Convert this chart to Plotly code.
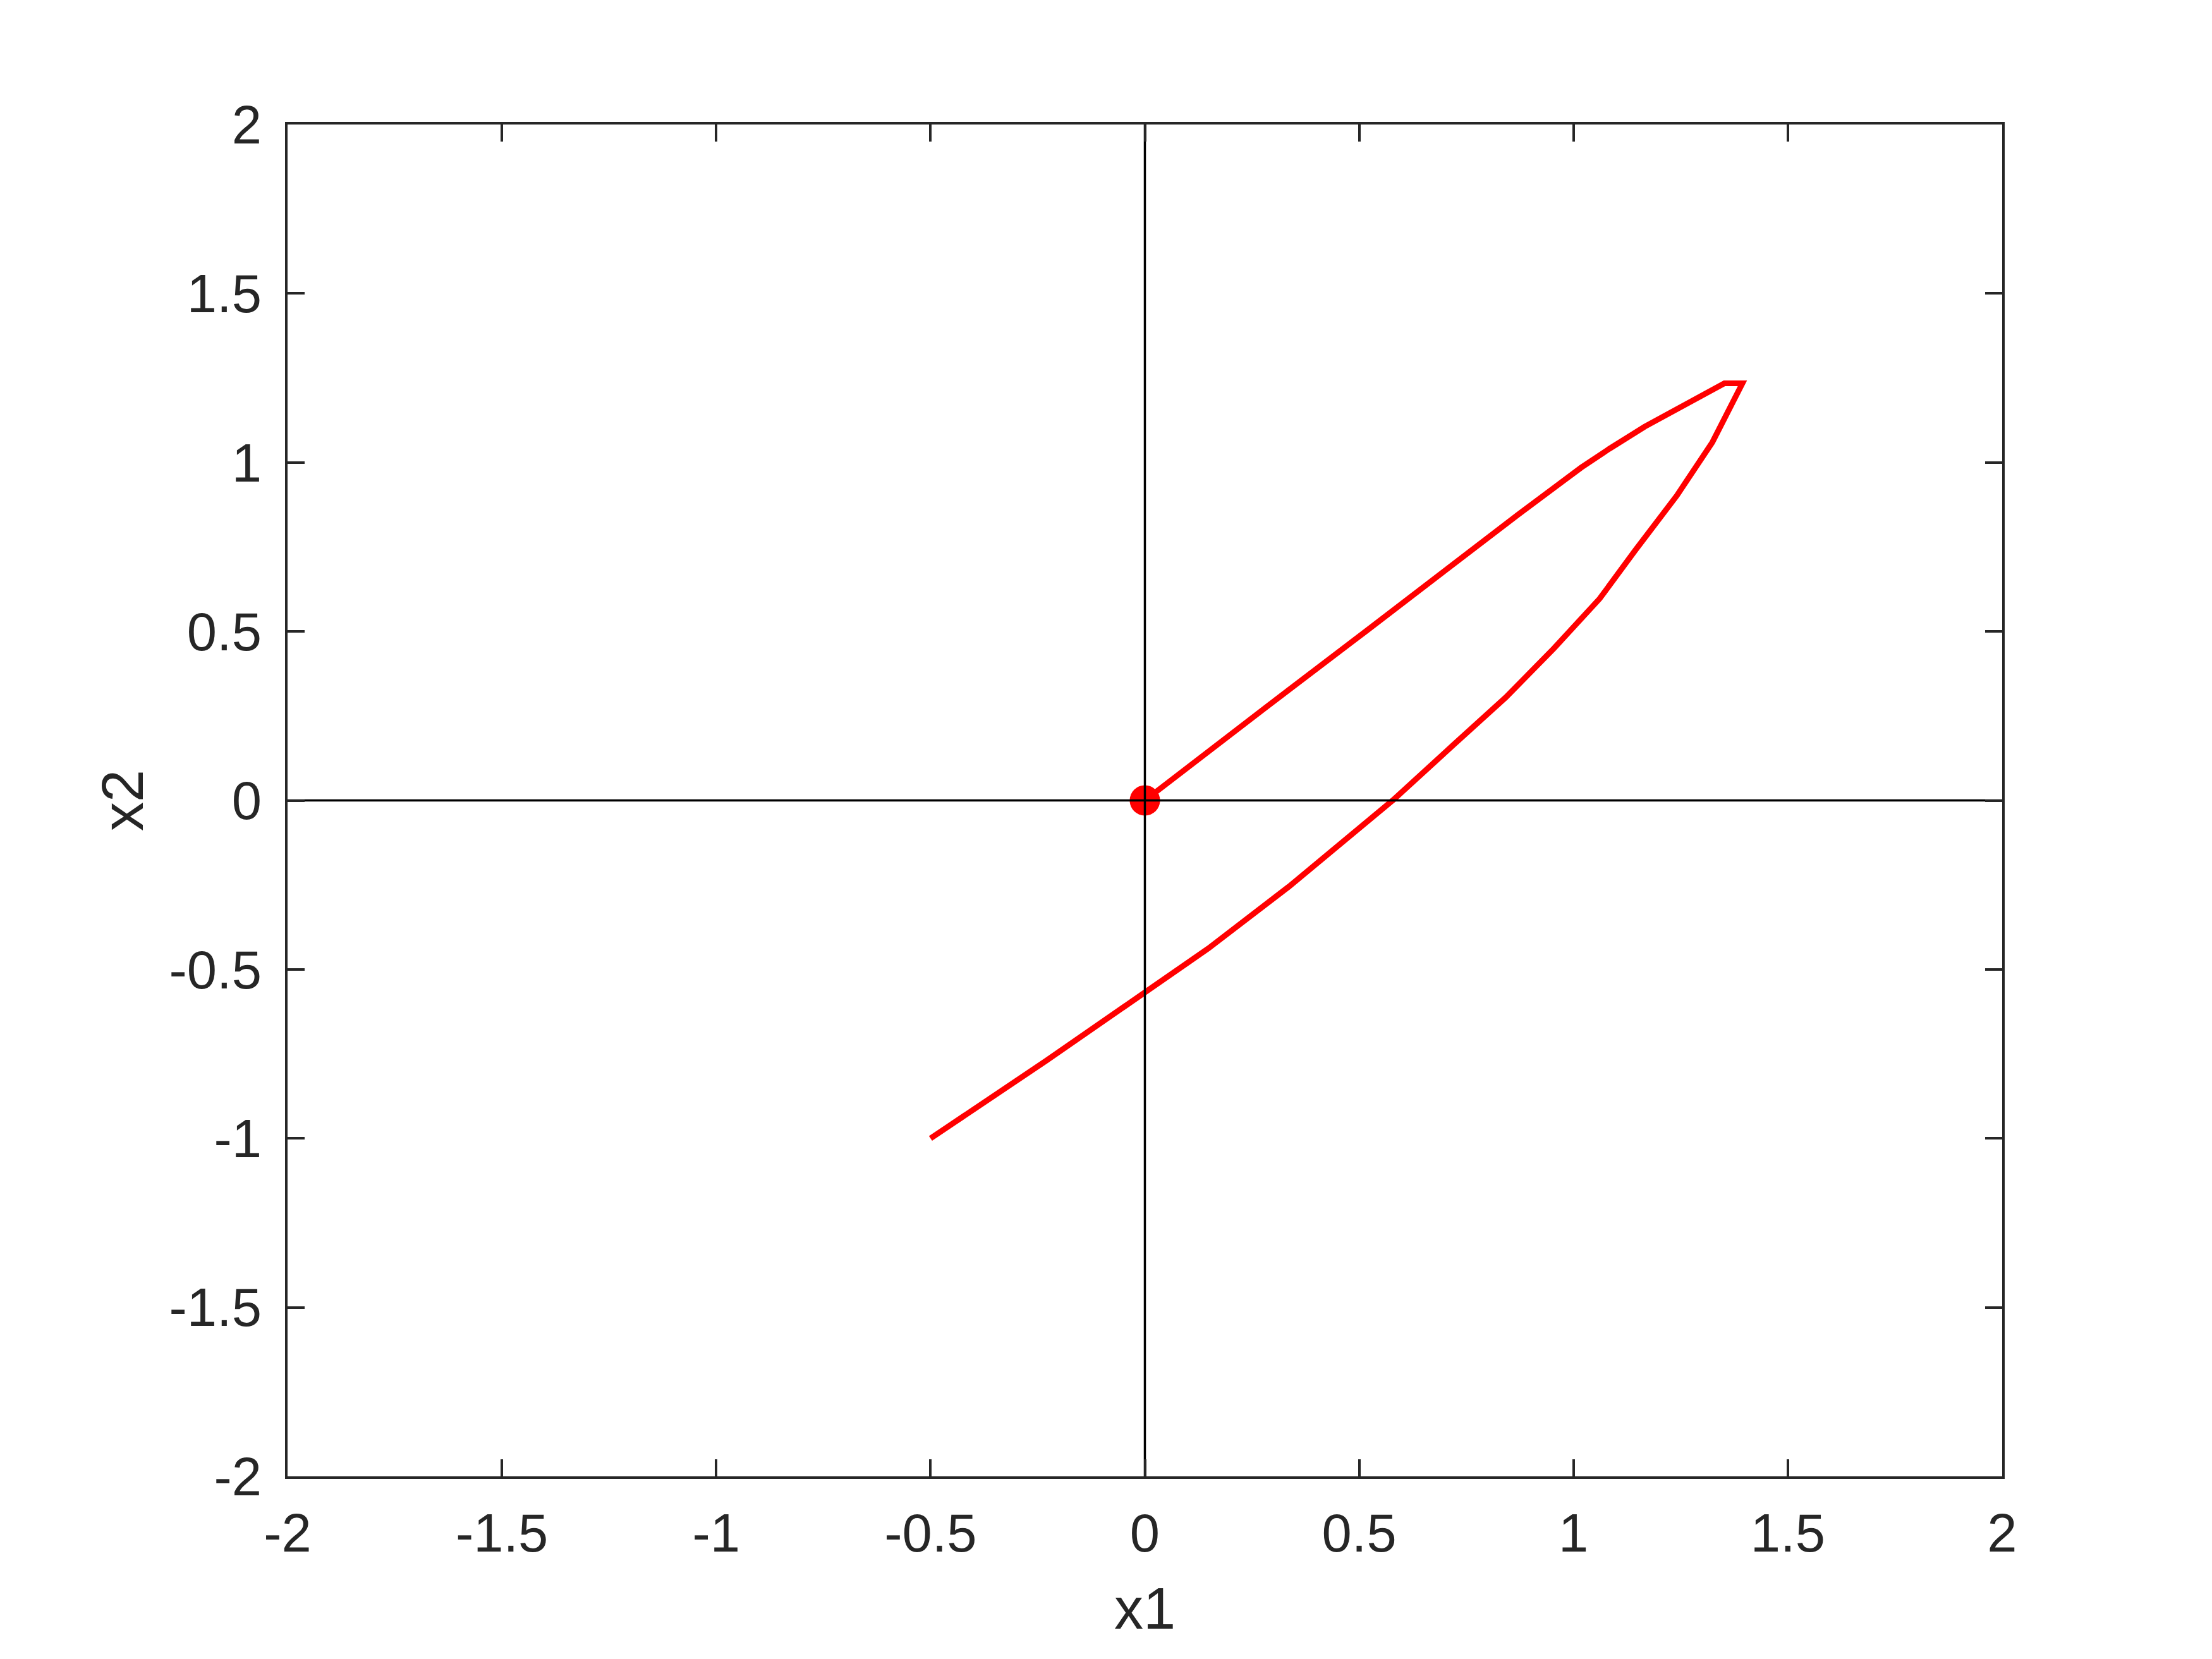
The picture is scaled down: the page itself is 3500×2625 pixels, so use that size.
import plotly.graph_objects as go

# trajectory in the (x1, x2) plane
x1 = [-0.5, -0.23, 0.0, 0.148, 0.336, 0.578, 0.723, 0.842, 0.955, 1.061, 1.144, 1.241, 1.324,
      1.358, 1.394,
      1.352, 1.268, 1.166, 1.083, 1.018, 0.871, 0.723, 0.517, 0.280, 0.0]
x2 = [-1.0, -0.77, -0.568, -0.438, -0.255, 0.0, 0.168, 0.305, 0.451, 0.597, 0.740, 0.902, 1.060,
      1.148, 1.234,
      1.234, 1.177, 1.106, 1.040, 0.985, 0.846, 0.704, 0.502, 0.273, 0.0]

# equilibrium point
eq_x1 = [0]
eq_x2 = [0]

tick_vals = [-2, -1.5, -1, -0.5, 0, 0.5, 1, 1.5, 2]
tick_text = ["-2", "-1.5", "-1", "-0.5", "0", "0.5", "1", "1.5", "2"]

font = "Liberation Sans, Arial, Helvetica, sans-serif"
axcol = "#262626"

fig = go.Figure()
fig.add_trace(go.Scatter(x=x1, y=x2, mode="lines",
                         line=dict(color="#ff0000", width=9)))
fig.add_trace(go.Scatter(x=eq_x1, y=eq_x2, mode="markers",
                         marker=dict(color="#ff0000", size=48, line=dict(width=0))))
# the x1 = 0 and x2 = 0 lines sit on top of the curve
fig.add_trace(go.Scatter(x=[-2, 2], y=[0, 0], mode="lines",
                         line=dict(color="black", width=3.5)))
fig.add_trace(go.Scatter(x=[0, 0], y=[-2, 2], mode="lines",
                         line=dict(color="black", width=3.5)))

axis = dict(range=[-2, 2], tickvals=tick_vals, ticktext=tick_text,
            showgrid=False, zeroline=False,
            showline=True, mirror="ticks", linecolor=axcol, linewidth=4,
            ticks="inside", ticklen=27, tickwidth=4, tickcolor=axcol,
            tickfont=dict(family=font, size=85, color=axcol))

# page body adds ~8px, margins are shifted to compensate
fig.update_layout(
    width=3500, height=2625,
    margin=dict(l=447, r=340, t=189, b=297),
    paper_bgcolor="white", plot_bgcolor="white",
    showlegend=False,
    xaxis=dict(axis, title=dict(text="x1", font=dict(family=font, size=92, color=axcol), standoff=42),
               ticklabelstandoff=13),
    yaxis=dict(axis, title=dict(text="x2", font=dict(family=font, size=92, color=axcol), standoff=11),
               ticklabelstandoff=20),
)

fig.write_html("out.html")
